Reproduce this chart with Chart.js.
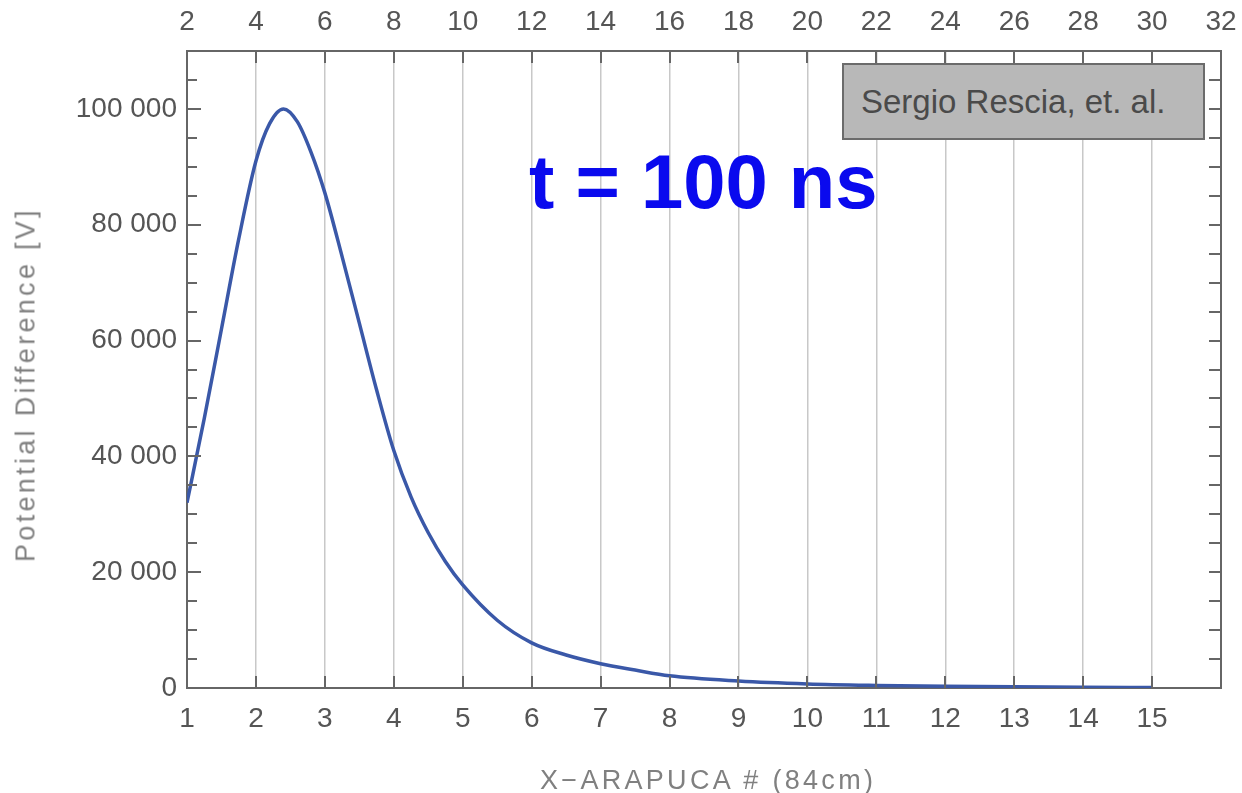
<!DOCTYPE html>
<html>
<head>
<meta charset="utf-8">
<script src="https://cdn.jsdelivr.net/npm/chart.js"></script>
<style>
  html, body { margin: 0; padding: 0; background: #fff; }
  #wrap { position: relative; width: 1242px; height: 793px; overflow: hidden; }
  canvas { position: absolute; left: 0; top: 0; }
  .lbl { position: absolute; white-space: nowrap; font-family: "Liberation Sans", Arial, sans-serif; }
  #note { left: 529px; top: 144px; font-size: 76px; font-weight: bold; line-height: 1; color: #0a0aee; }
  #credit { left: 842px; top: 63px; width: 363px; height: 77px; box-sizing: border-box;
            background: #b8b8b8; border: 2px solid #6b6b6b; padding-left: 17px;
            font-size: 33px; line-height: 73px; color: #4a4a4a; }
  #xtitle { left: 540px; top: 767px; font-size: 27px; line-height: 1; letter-spacing: 3.3px; color: #808080; }
  #ytitle { left: -154px; top: 371px; width: 360px; text-align: center; font-size: 27px; line-height: 27px;
            letter-spacing: 3.3px; color: #808080; transform: rotate(-90deg); transform-origin: 50% 50%; }
</style>
</head>
<body>
<div id="wrap">
  <canvas id="chart" width="1242" height="793"></canvas>
  <div class="lbl" id="note">t = 100 ns</div>
  <div class="lbl" id="credit">Sergio Rescia, et. al.</div>
  <div class="lbl" id="xtitle">X−ARAPUCA # (84cm)</div>
  <div class="lbl" id="ytitle">Potential Difference [V]</div>
</div>
<script>
// X-ARAPUCA number (bottom axis) and potential difference [V]
const arapuca = [1, 1.25, 1.5, 1.75, 2, 2.2, 2.4, 2.6, 2.8, 3, 3.25, 3.5, 3.75, 4,
                 4.25, 4.5, 4.75, 5, 5.5, 6, 6.5, 7, 7.5, 8, 9, 10, 11, 12, 13, 14, 15];
const potential = [32000, 46500, 62000, 77500, 91000, 97500, 100000, 97800, 92500, 85500,
                   74500, 63000, 51500, 41000, 33000, 26800, 21800, 17800, 11700, 7800,
                   5700, 4200, 3100, 2100, 1200, 700, 450, 300, 200, 130, 90];

// axis ranges / ticks
const xRange = [1, 16];        // bottom axis
const xTopRange = [2, 32];     // top axis (2 per bottom unit)
const yRange = [0, 110000];
const yMajorStep = 20000;
const yMinorStep = 5000;

const tickFont = { family: '"Liberation Sans", Arial, sans-serif', size: 28 };
const tickColor = '#555';
const frame = { color: '#666', width: 2 };

function fmtThousands(v) {
  return String(v).replace(/\B(?=(\d{3})+(?!\d))/g, ' ');
}

// Mathematica-style ticks pointing into the frame
const innerTicks = {
  id: 'innerTicks',
  afterDraw(chart) {
    const { ctx, chartArea: a, scales } = chart;
    ctx.save();
    ctx.strokeStyle = frame.color;
    ctx.lineWidth = 2;
    ctx.beginPath();
    scales.y.ticks.forEach(t => {
      const py = Math.round(scales.y.getPixelForValue(t.value));
      const len = t.value % yMajorStep === 0 ? 14 : 10;
      ctx.moveTo(a.left, py); ctx.lineTo(a.left + len, py);
      ctx.moveTo(a.right, py); ctx.lineTo(a.right - 12, py);
    });
    scales.x.ticks.forEach(t => {
      const px = Math.round(scales.x.getPixelForValue(t.value));
      ctx.moveTo(px, a.bottom); ctx.lineTo(px, a.bottom - 12);
      ctx.moveTo(px, a.top); ctx.lineTo(px, a.top + 12);
    });
    ctx.stroke();
    ctx.restore();
  }
};

const ctx = document.getElementById('chart').getContext('2d');
new Chart(ctx, {
  type: 'line',
  data: {
    datasets: [{
      data: arapuca.map((x, i) => ({ x: x, y: potential[i] })),
      borderColor: '#3a58a8',
      borderWidth: 3.5,
      pointRadius: 0,
      fill: false,
      cubicInterpolationMode: 'monotone'
    }]
  },
  options: {
    responsive: false,
    animation: false,
    layout: { padding: 0 },
    plugins: { legend: { display: false }, tooltip: { enabled: false } },
    scales: {
      x: {
        type: 'linear', position: 'bottom', min: xRange[0], max: xRange[1],
        ticks: { stepSize: 1, autoSkip: false, maxRotation: 0, padding: 14, font: tickFont, color: tickColor,
                 callback: v => (v < xRange[1] ? v : '') },
        grid: { color: '#c8c8c8', lineWidth: 1.5, drawTicks: false },
        border: frame,
        afterFit: s => { s.height = 105; s.paddingLeft = 0; s.paddingRight = 0; }
      },
      x2: {
        type: 'linear', position: 'top', min: xTopRange[0], max: xTopRange[1],
        ticks: { stepSize: 2, autoSkip: false, maxRotation: 0, padding: 4, font: tickFont, color: tickColor },
        grid: { display: false },
        border: frame,
        afterFit: s => { s.height = 51; s.paddingLeft = 0; s.paddingRight = 0; }
      },
      y: {
        min: yRange[0], max: yRange[1],
        ticks: { stepSize: yMinorStep, autoSkip: false, padding: 2, font: tickFont, color: tickColor,
                 callback: v => (v % yMajorStep === 0 ? fmtThousands(v) : '') },
        grid: { display: false },
        border: frame,
        afterFit: s => { s.width = 187; }
      },
      y2: {
        position: 'right', min: yRange[0], max: yRange[1],
        ticks: { display: false },
        grid: { display: false },
        border: frame,
        afterFit: s => { s.width = 21; }
      }
    }
  },
  plugins: [innerTicks]
});
</script>
</body>
</html>
